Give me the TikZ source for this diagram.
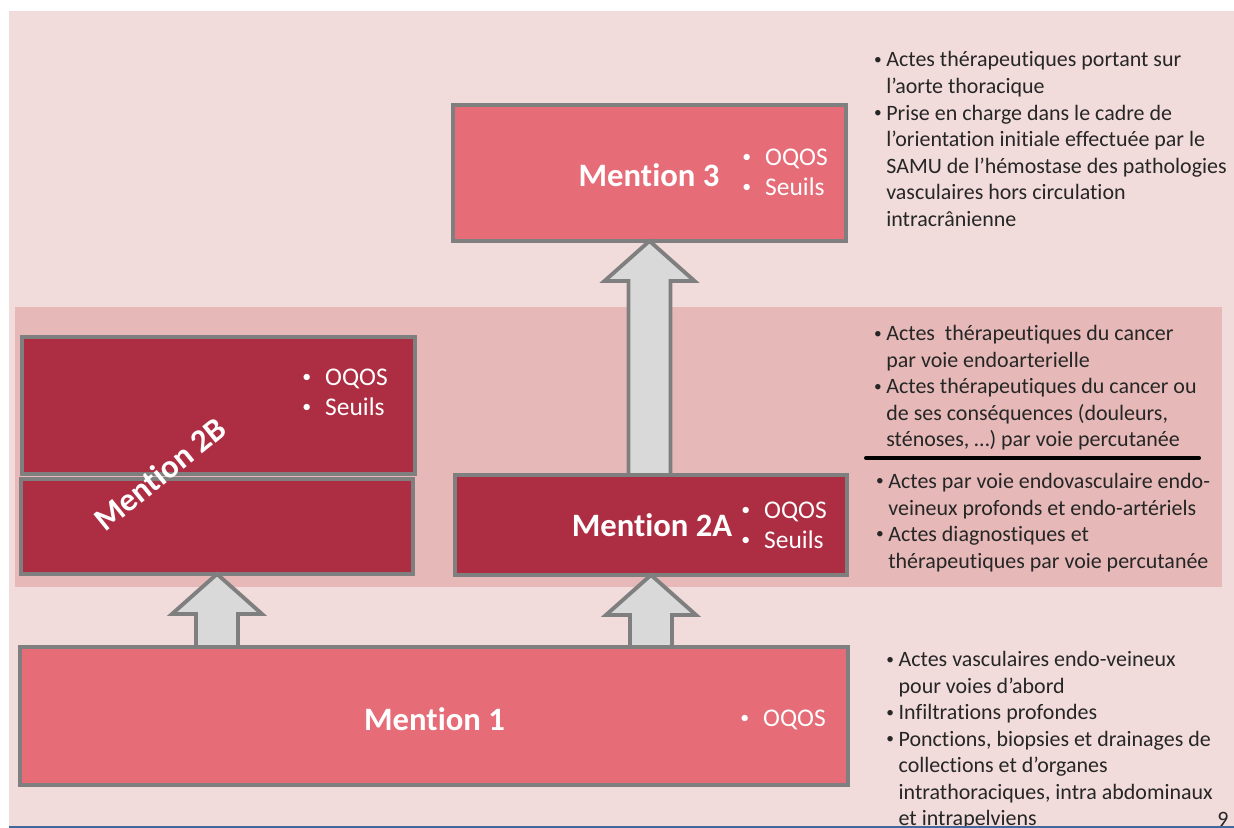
\documentclass[tikz,border=0pt]{standalone}
\usepackage{fontspec}
\setmainfont{Carlito}[Ligatures={TeX,NoCommon}]
\usepackage{tikz}
\usetikzlibrary{calc,positioning,backgrounds}

\definecolor{slidepink}{HTML}{F2DCDB}
\definecolor{bandpink}{HTML}{E6B9B8}
\definecolor{lightred}{HTML}{E66C78}
\definecolor{darkred}{HTML}{AD2D42}
\definecolor{boxgray}{HTML}{7F7F7F}
\definecolor{arrowgray}{HTML}{D9D9D9}
\definecolor{textgray}{HTML}{262626}
\definecolor{slideblue}{HTML}{44679A}

\newcommand{\bitem}[1][7pt]{\makebox[#1][l]{\raisebox{0.12em}{\scalebox{0.7}{\textbullet}}}}
\newcommand{\bcont}[1][7pt]{\hspace*{#1}}

\begin{document}
\begin{tikzpicture}[
    %–––– GLOBAL STYLE TWEAKS ––––
    x=0.02cm, y=-0.02cm,                             % one unit = one pixel of the slide
    box/.style      = {draw=boxgray, line width=2.2pt, outer sep=0pt, inner sep=0pt},
    lightbox/.style = {box, fill=lightred},
    darkbox/.style  = {box, fill=darkred},
    mtitle/.style   = {inner sep=0pt, text=white,
                       font=\fontsize{18.6}{22}\selectfont\bfseries},
    boxlist/.style  = {anchor=west, inner sep=0pt, align=left, text=white,
                       font=\fontsize{14.5}{17}\selectfont},
    sidetext/.style = {anchor=west, inner sep=0pt, align=left, text=textgray,
                       font=\fontsize{12.5}{15.1}\selectfont},
    blockarrow/.style = {draw=boxgray, line width=2.2pt, fill=arrowgray, line join=miter},
]
%–––– SLIDE BACKGROUND ––––
\useasboundingbox (0,0) rectangle (1234,828);
\fill[white]     (0,0)    rectangle (1234,828);
\fill[slidepink] (9,11)   rectangle (1234,826);
\fill[bandpink]  (15,307) rectangle (1222,587);

%–––– MENTION BOXES ––––
\node (m3)     [lightbox, minimum width=7.86cm,  minimum height=2.72cm] at (649.5,173) {};
\node (m2b_up) [darkbox,  minimum width=7.86cm,  minimum height=2.74cm] at (218.5,405.5) {};
\node (m2b_low)[darkbox,  minimum width=7.84cm,  minimum height=1.90cm] at (217,526.5) {};
\node (m2a)    [darkbox,  minimum width=7.84cm,  minimum height=2.00cm] at (651,525) {};
\node (m1)     [lightbox, minimum width=16.56cm, minimum height=2.76cm] at (434,716) {};

%–––– BLOCK ARROWS ––––
\foreach \lo/\hi in {m1/m2b_low, m1/m2a, m2a/m3}{
  \coordinate (foot) at (\hi.south |- \lo.north);
  \draw[blockarrow] ($(foot)+(-21,0)$) -- ($(\hi.south)+(-21,40)$) -- ($(\hi.south)+(-45,40)$)
        -- (\hi.south) -- ($(\hi.south)+(45,40)$) -- ($(\hi.south)+(21,40)$) -- ($(foot)+(21,0)$) -- cycle;
}

%–––– BOX LABELS ––––
\node (m3_title)  [mtitle] at (649,175) {Mention 3};
\node (m3_list)   [boxlist] at (742,172) {\bitem[13pt]OQOS\\\bitem[13pt]Seuils};

\node (m2b_title) [mtitle, rotate=39] at (160,474) {Mention 2B};
\node (m2b_list)  [boxlist] at (302,392) {\bitem[13pt]OQOS\\\bitem[13pt]Seuils};

\node (m2a_title) [mtitle] at (652,525) {Mention 2A};
\node (m2a_list)  [boxlist] at (741,525.5) {\bitem[13pt]OQOS\\\bitem[13pt]Seuils};

\node (m1_title)  [mtitle] at (434.5,719) {Mention 1};
\node (m1_list)   [boxlist] at (740,720) {\bitem[13pt]OQOS};

%–––– SIDE DESCRIPTIONS ––––
\node (m3_text) [sidetext] at (873.7,139) {%
  \bitem Actes thérapeutiques portant sur\\
  \bcont l’aorte thoracique\\
  \bitem Prise en charge dans le cadre de\\
  \bcont l’orientation initiale effectuée par le\\
  \bcont SAMU de l’hémostase des pathologies\\
  \bcont vasculaires hors circulation\\
  \bcont intracrânienne};

\node (m2b_text) [sidetext] at (873.7,388) {%
  \bitem Actes~ thérapeutiques du cancer\\
  \bcont par voie endoarterielle\\
  \bitem Actes thérapeutiques du cancer ou\\
  \bcont de ses conséquences (douleurs,\\
  \bcont sténoses, …) par voie percutanée};

\coordinate (sep_l) at (866,458);
\coordinate (sep_r) at (1199,458);
\draw[line width=2.3pt, line cap=round] (sep_l) -- (sep_r);

\node (m2a_text) [sidetext] at (875.7,522.5) {%
  \bitem Actes par voie endovasculaire endo-\\
  \bcont veineux profonds et endo-artériels\\
  \bitem Actes diagnostiques et\\
  \bcont thérapeutiques par voie percutanée};

\node (m1_text) [sidetext] at (886,740.5) {%
  \bitem Actes vasculaires endo-veineux\\
  \bcont pour voies d’abord\\
  \bitem Infiltrations profondes\\
  \bitem Ponctions, biopsies et drainages de\\
  \bcont collections et d’organes\\
  \bcont intrathoraciques, intra abdominaux\\
  \bcont et intrapelviens};

\node (page_no) [sidetext, anchor=center] at (1223,819) {9};

%–––– BOTTOM RULE ––––
\fill[slideblue] (9,826) rectangle (1234,828);
\end{tikzpicture}
\end{document}
